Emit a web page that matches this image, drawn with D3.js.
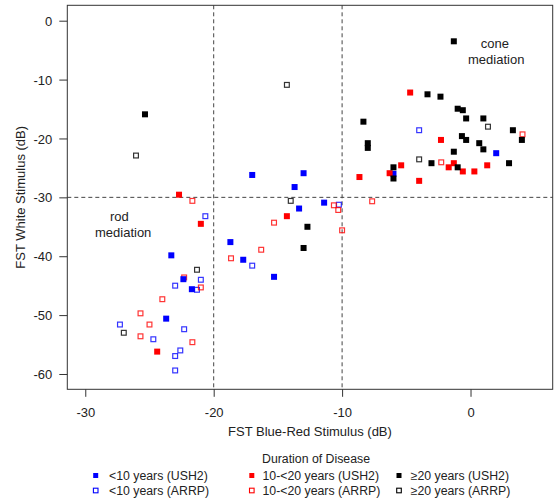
<!DOCTYPE html>
<html>
<head>
<meta charset="utf-8">
<script src="https://cdn.jsdelivr.net/npm/d3@7"></script>
<style>
  body { margin: 0; background: #fff; }
  text { font-family: "Liberation Sans", Arial, sans-serif; fill: #222; }
</style>
</head>
<body>
<div id="chart"></div>
<script>
// [blue-red dB, white dB]
var lt10USH2 = [[-22.36,-43.9],[-23.3,-39.85],[-21.7,-45.6],[-23.7,-50.6],[-17.0,-26.2],[-13.0,-25.9],
  [-13.7,-28.25],[-13.35,-31.9],[-11.4,-30.9],[-18.7,-37.6],[-17.7,-40.6],[-15.3,-43.5],[-6.0,-26.0],[2.0,-22.5]];
var lt10ARRP = [[-20.65,-33.2],[-21.0,-44.0],[-23.0,-45.0],[-21.3,-45.7],[-27.3,-51.6],[-22.3,-52.4],
  [-24.7,-54.1],[-22.6,-56.0],[-23.0,-56.95],[-23.0,-59.4],[-10.25,-31.25],[-17.0,-41.6],[-4.0,-18.6]];
var mid10USH2 = [[-22.7,-29.55],[-21.0,-34.5],[-24.4,-56.2],[-14.3,-33.2],[-4.7,-12.2],[-2.3,-20.25],
  [-1.7,-24.9],[-5.4,-24.56],[-6.3,-25.9],[-8.65,-26.55],[-4.0,-27.2],[1.3,-24.56],[-1.3,-24.2],[-0.6,-25.6],[0.3,-25.6]];
var mid10ARRP = [[-21.66,-30.6],[-22.3,-43.6],[-21.0,-45.3],[-24.0,-47.3],[-25.7,-49.7],[-25.0,-51.6],
  [-25.7,-53.6],[-21.66,-54.6],[-10.64,-31.35],[-10.3,-32.15],[-10.0,-35.6],[-15.3,-34.3],[-16.3,-38.9],
  [-18.65,-40.35],[-7.66,-30.67],[-2.28,-24.05],[4.05,-19.3]];
var ge20USH2 = [[-25.35,-15.9],[-12.7,-35.0],[-13.0,-38.6],[-3.35,-12.5],[-2.34,-12.9],[-8.34,-17.15],
  [-8.0,-20.8],[-8.0,-21.6],[-3.04,-24.2],[-6.0,-24.9],[-6.0,-26.8],[-1.3,-3.5],[-1.0,-14.95],[-0.6,-15.2],
  [-0.34,-16.6],[1.0,-16.6],[3.3,-18.6],[4.0,-20.25],[-0.67,-19.6],[-0.34,-20.25],[0.68,-20.8],[1.0,-21.85],
  [-1.3,-22.25],[3.0,-24.2],[-1.0,-24.9]];
var ge20ARRP = [[-26.05,-22.9],[-21.3,-42.3],[-27.0,-53.0],[-14.0,-30.6],[-14.3,-10.9],[-4.0,-23.55],[1.36,-18.0]];

var xTicks = [-30, -20, -10, 0];
var yTicks = [0, -10, -20, -30, -40, -50, -60];
var cutX = [-20, -10];
var cutY = [-30];

var series = [
  {label: "<10 years (ARRP)", data: lt10ARRP, color: "#0000ff", filled: false},
  {label: "10-<20 years (ARRP)", data: mid10ARRP, color: "#ff0000", filled: false},
  {label: "\u226520 years (ARRP)", data: ge20ARRP, color: "#000000", filled: false},
  {label: "<10 years (USH2)", data: lt10USH2, color: "#0000ff", filled: true},
  {label: "10-<20 years (USH2)", data: mid10USH2, color: "#ff0000", filled: true},
  {label: "\u226520 years (USH2)", data: ge20USH2, color: "#000000", filled: true}
];

var margin = {top: 5.3, right: 2.3, bottom: 110.7, left: 67.3},
  width = 555 - margin.left - margin.right,
  height = 500 - margin.top - margin.bottom;

var svg = d3.select("#chart")
  .append("svg")
  .attr("width", 555)
  .attr("height", 500)
  .append("g")
  .attr("transform", "translate(" + margin.left + "," + margin.top + ")");

var x = d3.scaleLinear().domain([-31.4, 6.4]).range([0, width]);
var y = d3.scaleLinear().domain([2.615, -62.6]).range([0, height]);

// plain hyphen minus, like the original
var fmt = function(d) { return String(d); };

// axes
var xAxis = svg.append("g")
  .attr("transform", "translate(0," + height + ")")
  .call(d3.axisBottom(x).tickValues(xTicks).tickSize(7.5).tickPadding(11).tickFormat(fmt));
var yAxis = svg.append("g")
  .call(d3.axisLeft(y).tickValues(yTicks).tickSize(8).tickPadding(7).tickFormat(fmt));
[xAxis, yAxis].forEach(function(a) {
  a.select(".domain").remove();
  a.selectAll("line").attr("stroke", "#333").attr("stroke-width", 1);
  a.selectAll("text").style("font-size", "13px").style("fill", "#222")
    .style("font-family", "'Liberation Sans', Arial, sans-serif");
});
yAxis.selectAll("text").attr("dy", "0.35em");

// cut-off lines
svg.selectAll(".vcut")
  .data(cutX)
  .enter()
  .append("line")
  .attr("x1", function(d) { return x(d); })
  .attr("x2", function(d) { return x(d); })
  .attr("y1", 0)
  .attr("y2", height)
  .attr("stroke", "#444")
  .attr("stroke-dasharray", "4,3");
svg.selectAll(".hcut")
  .data(cutY)
  .enter()
  .append("line")
  .attr("x1", 0)
  .attr("x2", width)
  .attr("y1", function(d) { return y(d); })
  .attr("y2", function(d) { return y(d); })
  .attr("stroke", "#444")
  .attr("stroke-dasharray", "4,3");

// points
var s = 6;
series.forEach(function(ser) {
  svg.append("g")
    .selectAll("rect")
    .data(ser.data)
    .enter()
    .append("rect")
    .attr("x", function(d) { return x(d[0]) - (ser.filled ? s / 2 : s / 2 - 0.6); })
    .attr("y", function(d) { return y(d[1]) - (ser.filled ? s / 2 : s / 2 - 0.6); })
    .attr("width", ser.filled ? s : s - 1.2)
    .attr("height", ser.filled ? s : s - 1.2)
    .attr("fill", ser.filled ? ser.color : "none")
    .attr("stroke", ser.filled ? "none" : ser.color)
    .attr("stroke-opacity", 0.8)
    .attr("stroke-width", 1.2);
});

// box
svg.append("rect")
  .attr("width", width)
  .attr("height", height)
  .attr("fill", "none")
  .attr("stroke", "#333")
  .attr("stroke-width", 1);

// region notes
svg.append("text").attr("x", x(-27.35)).attr("y", y(-34.0)).attr("text-anchor", "middle")
  .style("font-size", "13px").text("rod");
svg.append("text").attr("x", x(-27.05)).attr("y", y(-36.7)).attr("text-anchor", "middle")
  .style("font-size", "13px").text("mediation");
svg.append("text").attr("x", x(1.9)).attr("y", y(-4.7)).attr("text-anchor", "middle")
  .style("font-size", "13px").text("cone");
svg.append("text").attr("x", x(2.0)).attr("y", y(-7.3)).attr("text-anchor", "middle")
  .style("font-size", "13px").text("mediation");

// axis titles
svg.append("text")
  .attr("x", width / 2)
  .attr("y", height + 46.5)
  .attr("text-anchor", "middle")
  .style("font-size", "13px")
  .text("FST Blue-Red Stimulus (dB)");
svg.append("text")
  .attr("transform", "translate(" + (-margin.left + 24.5) + "," + (height / 2) + ") rotate(-90)")
  .attr("text-anchor", "middle")
  .style("font-size", "13px")
  .text("FST White Stimulus (dB)");

// legend
var legend = d3.select("svg").append("g");
legend.append("text")
  .attr("x", 316)
  .attr("y", 463)
  .attr("text-anchor", "middle")
  .style("font-size", "12.3px")
  .text("Duration of Disease");

var legCols = [95.7, 251.8, 399];
var legRows = [475.5, 490.5];
var legItems = legend.selectAll(".item")
  .data(series)
  .enter()
  .append("g")
  .attr("transform", function(d, i) {
    var col = i % 3, row = d.filled ? 0 : 1;
    return "translate(" + legCols[col] + "," + legRows[row] + ")";
  });
legItems.append("rect")
  .attr("x", function(d) { return d.filled ? -2.5 : -2.3; })
  .attr("y", function(d) { return d.filled ? -2.5 : -2.3; })
  .attr("width", function(d) { return d.filled ? 5 : 4.6; })
  .attr("height", function(d) { return d.filled ? 5 : 4.6; })
  .attr("fill", function(d) { return d.filled ? d.color : "none"; })
  .attr("stroke", function(d) { return d.filled ? "none" : d.color; })
  .attr("stroke-width", 1.1);
legItems.append("text")
  .attr("x", function(d, i) { return [13.3, 10.7, 11.7][i % 3]; })
  .attr("y", 4.2)
  .style("font-size", "12.3px")
  .text(function(d) { return d.label; });
</script>
</body>
</html>
